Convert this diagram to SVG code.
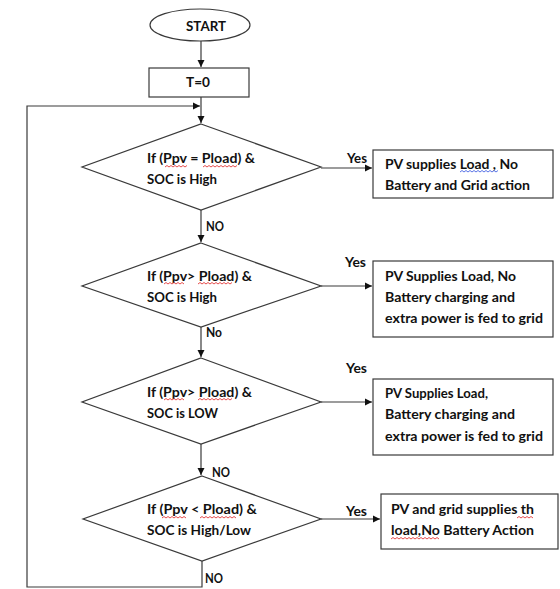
<svg xmlns="http://www.w3.org/2000/svg" width="560" height="589" viewBox="0 0 560 589">
<style>
.sh{fill:#fff;stroke:#3a3a3a;stroke-width:1.2}
.t{font-family:Lato,"Open Sans","Liberation Sans",sans-serif;font-weight:bold;font-size:13px;fill:#111}
.c{fill:none;stroke:#3a3a3a;stroke-width:1.2}
.sq{fill:none;stroke:#e02020;stroke-width:0.8}
.sqb{fill:none;stroke:#3050e0;stroke-width:0.8}
</style>
<defs>
<marker id="ah" markerWidth="8" markerHeight="8" refX="7" refY="4" orient="auto" markerUnits="userSpaceOnUse">
<path d="M0,0.5 L7,4 L0,7.5 Z" fill="#111"/>
</marker>
</defs>
<rect width="560" height="589" fill="#fff"/>
<g id="connectors">
<line class="c" x1="201" y1="41" x2="201" y2="67" marker-end="url(#ah)"/>
<line class="c" x1="201" y1="97" x2="201" y2="123" marker-end="url(#ah)"/>
<polyline class="c" points="202,561 202,587 27,587 27,106 200,106" marker-end="url(#ah)"/>
<line class="c" x1="201" y1="210" x2="201" y2="242" marker-end="url(#ah)"/>
<line class="c" x1="201" y1="327" x2="201" y2="357" marker-end="url(#ah)"/>
<line class="c" x1="201" y1="444" x2="201" y2="475" marker-end="url(#ah)"/>
<line class="c" x1="321" y1="168" x2="372" y2="168" marker-end="url(#ah)"/>
<line class="c" x1="321" y1="286" x2="372" y2="286" marker-end="url(#ah)"/>
<line class="c" x1="321" y1="402" x2="372" y2="402" marker-end="url(#ah)"/>
<line class="c" x1="321" y1="519" x2="380" y2="519" marker-end="url(#ah)"/>
<text class="t" x="347" y="163" textLength="20" lengthAdjust="spacingAndGlyphs">Yes</text>
<text class="t" x="206" y="231" textLength="18" lengthAdjust="spacingAndGlyphs">NO</text>
<text class="t" x="345" y="267" textLength="21" lengthAdjust="spacingAndGlyphs">Yes</text>
<text class="t" x="206" y="337" textLength="16" lengthAdjust="spacingAndGlyphs">No</text>
<text class="t" x="346" y="373" textLength="21" lengthAdjust="spacingAndGlyphs">Yes</text>
<text class="t" x="212" y="477" textLength="18" lengthAdjust="spacingAndGlyphs">NO</text>
<text class="t" x="346" y="516" textLength="21" lengthAdjust="spacingAndGlyphs">Yes</text>
<text class="t" x="205" y="583" textLength="18" lengthAdjust="spacingAndGlyphs">NO</text>
</g>
<g id="start">
<ellipse class="sh" cx="200" cy="25" rx="50" ry="16"/>
<text class="t" x="186" y="31" textLength="40" lengthAdjust="spacingAndGlyphs">START</text>
</g>
<g id="t0">
<rect class="sh" x="149" y="68" width="100" height="29"/>
<text class="t" x="186" y="87" textLength="24" lengthAdjust="spacingAndGlyphs">T=0</text>
</g>
<g id="d1">
<polygon class="sh" points="201,124 321,167 201,210 82,167"/>
<text class="t" x="147" y="163" textLength="108" lengthAdjust="spacingAndGlyphs">If (Ppv = Pload) &amp;</text>
<text class="t" x="147" y="184" textLength="70" lengthAdjust="spacingAndGlyphs">SOC is High</text>
<path class="sq" d="M165,167 l2,-1.5 l2,1.5 l2,-1.5 l2,1.5 l2,-1.5 l2,1.5 l2,-1.5 l2,1.5 l2,-1.5 l2,1.5 l2,-1.5"/>
<path class="sq" d="M203,167 l2,-1.5 l2,1.5 l2,-1.5 l2,1.5 l2,-1.5 l2,1.5 l2,-1.5 l2,1.5 l2,-1.5 l2,1.5 l2,-1.5 l2,1.5 l2,-1.5 l2,1.5 l2,-1.5 l2,1.5 l2,-1.5"/>
</g>
<g id="b1">
<rect class="sh" x="373" y="150" width="180" height="48"/>
<text class="t" x="385" y="169" textLength="133" lengthAdjust="spacingAndGlyphs">PV supplies Load , No</text>
<text class="t" x="385" y="190" textLength="145" lengthAdjust="spacingAndGlyphs">Battery and Grid action</text>
<path class="sqb" d="M460,172 l2,-1.5 l2,1.5 l2,-1.5 l2,1.5 l2,-1.5 l2,1.5 l2,-1.5 l2,1.5 l2,-1.5 l2,1.5 l2,-1.5 l2,1.5 l2,-1.5 l2,1.5 l2,-1.5 l2,1.5 l2,-1.5 l2,1.5 l2,-1.5"/>
</g>
<g id="d2">
<polygon class="sh" points="201,243 321,286 201,327 82,286"/>
<text class="t" x="147" y="281" textLength="105" lengthAdjust="spacingAndGlyphs">If (Ppv&gt; Pload) &amp;</text>
<text class="t" x="147" y="302" textLength="70" lengthAdjust="spacingAndGlyphs">SOC is High</text>
<path class="sq" d="M164,284 l2,-1.5 l2,1.5 l2,-1.5 l2,1.5 l2,-1.5 l2,1.5 l2,-1.5 l2,1.5 l2,-1.5 l2,1.5"/>
<path class="sq" d="M198,284 l2,-1.5 l2,1.5 l2,-1.5 l2,1.5 l2,-1.5 l2,1.5 l2,-1.5 l2,1.5 l2,-1.5 l2,1.5 l2,-1.5 l2,1.5 l2,-1.5 l2,1.5 l2,-1.5 l2,1.5 l2,-1.5"/>
</g>
<g id="b2">
<rect class="sh" x="373" y="261" width="180" height="76"/>
<text class="t" x="385" y="281" textLength="131" lengthAdjust="spacingAndGlyphs">PV Supplies Load, No</text>
<text class="t" x="385" y="302" textLength="130" lengthAdjust="spacingAndGlyphs">Battery charging and</text>
<text class="t" x="385" y="323" textLength="158" lengthAdjust="spacingAndGlyphs">extra power is fed to grid</text>
</g>
<g id="d3">
<polygon class="sh" points="201,358 321,402 201,444 82,402"/>
<text class="t" x="147" y="397" textLength="105" lengthAdjust="spacingAndGlyphs">If (Ppv&gt; Pload) &amp;</text>
<text class="t" x="147" y="418" textLength="71" lengthAdjust="spacingAndGlyphs">SOC is LOW</text>
<path class="sq" d="M164,400 l2,-1.5 l2,1.5 l2,-1.5 l2,1.5 l2,-1.5 l2,1.5 l2,-1.5 l2,1.5 l2,-1.5 l2,1.5"/>
<path class="sq" d="M198,400 l2,-1.5 l2,1.5 l2,-1.5 l2,1.5 l2,-1.5 l2,1.5 l2,-1.5 l2,1.5 l2,-1.5 l2,1.5 l2,-1.5 l2,1.5 l2,-1.5 l2,1.5 l2,-1.5 l2,1.5 l2,-1.5"/>
</g>
<g id="b3">
<rect class="sh" x="373" y="379" width="180" height="76"/>
<text class="t" x="385" y="398" textLength="103" lengthAdjust="spacingAndGlyphs">PV Supplies Load,</text>
<text class="t" x="385" y="419" textLength="130" lengthAdjust="spacingAndGlyphs">Battery charging and</text>
<text class="t" x="385" y="441" textLength="158" lengthAdjust="spacingAndGlyphs">extra power is fed to grid</text>
</g>
<g id="d4">
<polygon class="sh" points="202,476 321,519 202,561 83,519"/>
<text class="t" x="147" y="514" textLength="110" lengthAdjust="spacingAndGlyphs">If (Ppv &lt; Pload) &amp;</text>
<text class="t" x="147" y="535" textLength="104" lengthAdjust="spacingAndGlyphs">SOC is High/Low</text>
<path class="sq" d="M162,518 l2,-1.5 l2,1.5 l2,-1.5 l2,1.5 l2,-1.5 l2,1.5 l2,-1.5 l2,1.5 l2,-1.5 l2,1.5 l2,-1.5 l2,1.5"/>
<path class="sq" d="M200,518 l2,-1.5 l2,1.5 l2,-1.5 l2,1.5 l2,-1.5 l2,1.5 l2,-1.5 l2,1.5 l2,-1.5 l2,1.5 l2,-1.5 l2,1.5 l2,-1.5 l2,1.5 l2,-1.5 l2,1.5 l2,-1.5 l2,1.5"/>
</g>
<g id="b4">
<rect class="sh" x="381" y="494" width="177" height="55"/>
<text class="t" x="391" y="514" textLength="143" lengthAdjust="spacingAndGlyphs">PV and grid supplies th</text>
<text class="t" x="391" y="535" textLength="143" lengthAdjust="spacingAndGlyphs">load,No Battery Action</text>
<path class="sq" d="M517,518 l2,-1.5 l2,1.5 l2,-1.5 l2,1.5 l2,-1.5 l2,1.5 l2,-1.5 l2,1.5"/>
<path class="sq" d="M391,539 l2,-1.5 l2,1.5 l2,-1.5 l2,1.5 l2,-1.5 l2,1.5 l2,-1.5 l2,1.5 l2,-1.5 l2,1.5 l2,-1.5 l2,1.5 l2,-1.5 l2,1.5 l2,-1.5 l2,1.5 l2,-1.5 l2,1.5 l2,-1.5 l2,1.5 l2,-1.5 l2,1.5 l2,-1.5 l2,1.5"/>
</g>
</svg>
